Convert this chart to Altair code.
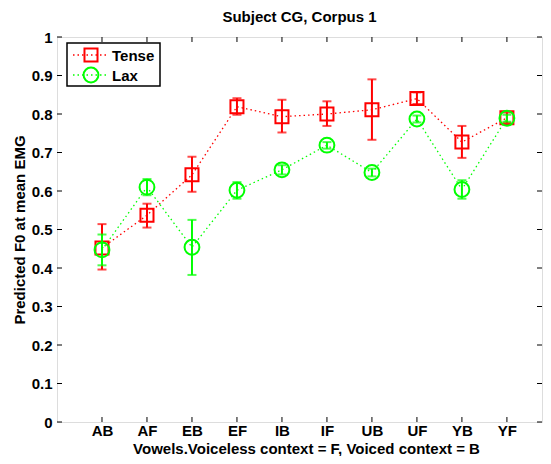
import altair as alt
import pandas as pd

categories = ["AB", "AF", "EB", "EF", "IB", "IF", "UB", "UF", "YB", "YF"]
tense_mean = [0.452, 0.537, 0.642, 0.819, 0.793, 0.800, 0.811, 0.840, 0.727, 0.790]
tense_lo = [0.396, 0.505, 0.598, 0.798, 0.752, 0.769, 0.733, 0.826, 0.686, 0.777]
tense_hi = [0.514, 0.567, 0.689, 0.841, 0.837, 0.833, 0.890, 0.856, 0.769, 0.804]
lax_mean = [0.447, 0.610, 0.454, 0.602, 0.655, 0.719, 0.648, 0.787, 0.604, 0.789]
lax_lo = [0.407, 0.589, 0.382, 0.580, 0.643, 0.710, 0.638, 0.778, 0.580, 0.780]
lax_hi = [0.487, 0.631, 0.525, 0.623, 0.667, 0.727, 0.658, 0.796, 0.628, 0.798]
series_names = ["Tense", "Lax"]
series_colors = ["#ff0000", "#00ff00"]
series_shapes = ["square", "circle"]
y_ticks = [round(i * 0.1, 1) for i in range(11)]

W, H = 485, 385
FONT = "Liberation Sans"
FS = 15

rows = []
for i, c in enumerate(categories):
    rows.append(dict(pos=i + 1, cat=c, series="Tense", mean=tense_mean[i], lo=tense_lo[i], hi=tense_hi[i]))
for i, c in enumerate(categories):
    rows.append(dict(pos=i + 1, cat=c, series="Lax", mean=lax_mean[i], lo=lax_lo[i], hi=lax_hi[i]))
df = pd.DataFrame(rows)

label_expr = "[" + ",".join("'%s'" % c for c in categories) + "][datum.value - 1]"

xscale = alt.Scale(domain=[0, 10.78], nice=False, zero=False)
yscale = alt.Scale(domain=[0, 1], nice=False)

xaxis = alt.Axis(values=list(range(1, 11)), labelExpr=label_expr,
                 labelPadding=1, title="Vowels.Voiceless context = F, Voiced context = B",
                 titleBaseline="alphabetic", titleY=31, titleX=249, titleAnchor="middle")
yaxis = alt.Axis(values=y_ticks, tickCount=11, labelExpr="format(datum.value, '~g')",
                 labelPadding=5, title="Predicted F0 at mean EMG", titlePadding=4)

base = alt.Chart(df)
XQ = lambda f: alt.X(f, scale=xscale)
YQ = lambda f: alt.Y(f, scale=yscale)

layers = []
layers.append(base.mark_point(opacity=0).encode(
    x=alt.X("pos:Q", scale=xscale, axis=xaxis),
    y=alt.Y("mean:Q", scale=yscale, axis=yaxis)))

# inward ticks
yt = pd.DataFrame({"v": y_ticks})
xt = pd.DataFrame({"p": list(range(1, 11))})
layers.append(alt.Chart(yt).mark_rule(color="black", strokeWidth=1).encode(
    y=YQ("v:Q"), x=alt.value(0), x2=alt.value(5)))
layers.append(alt.Chart(yt).mark_rule(color="black", strokeWidth=1).encode(
    y=YQ("v:Q"), x=alt.value(W - 5), x2=alt.value(W)))
layers.append(alt.Chart(xt).mark_rule(color="black", strokeWidth=1).encode(
    x=XQ("p:Q"), y=alt.value(H - 5), y2=alt.value(H)))
layers.append(alt.Chart(xt).mark_rule(color="black", strokeWidth=1).encode(
    x=XQ("p:Q"), y=alt.value(0), y2=alt.value(5)))

for name, col in [("Tense", series_colors[0]), ("Lax", series_colors[1])]:
    sub = base.transform_filter(alt.datum.series == name)
    layers.append(sub.mark_line(color=col, strokeWidth=1.3, strokeDash=[1.5, 3]).encode(
        x=XQ("pos:Q"), y=YQ("mean:Q")))
for name, col, shp, size in [("Tense", series_colors[0], "square", 170), ("Lax", series_colors[1], "circle", 220)]:
    sub = base.transform_filter(alt.datum.series == name)
    layers.append(sub.mark_rule(color=col, strokeWidth=2).encode(
        x=XQ("pos:Q"), y=YQ("lo:Q"), y2="hi:Q"))
    for f in ["lo", "hi"]:
        layers.append(sub.mark_tick(color=col, thickness=2, size=9, orient="horizontal").encode(
            x=XQ("pos:Q"), y=YQ(f + ":Q")))
    layers.append(sub.mark_point(shape=shp, size=size, color=col, filled=False, strokeWidth=2, opacity=1).encode(
        x=XQ("pos:Q"), y=YQ("mean:Q")))

# legend box
leg = pd.DataFrame({"name": series_names, "row": [0, 1]})
layers.append(alt.Chart(leg).transform_filter(alt.datum.row == 0).mark_rect(
    fill="white", stroke="black", strokeWidth=1.5).encode(
    x=alt.value(10), x2=alt.value(103), y=alt.value(6), y2=alt.value(49)))
for r in range(2):
    d = leg[leg.row == r]
    yy = 18 + 20 * r
    layers.append(alt.Chart(d).mark_rule(color=series_colors[r], strokeWidth=1.3, strokeDash=[1.5, 3]).encode(
        x=alt.value(16), x2=alt.value(52), y=alt.value(yy)))
    layers.append(alt.Chart(d).mark_point(shape=series_shapes[r], size=[170, 220][r], color=series_colors[r],
                                          filled=False, strokeWidth=2, opacity=1).encode(
        x=alt.value(34), y=alt.value(yy)))
    layers.append(alt.Chart(d).mark_text(align="left", baseline="middle", font=FONT, fontSize=FS,
                                         fontWeight="bold", color="black").encode(
        x=alt.value(55), y=alt.value(yy + 1), text="name:N"))

chart = alt.layer(*layers).properties(
    width=W, height=H,
    title=alt.TitleParams("Subject CG, Corpus 1", font=FONT, fontSize=FS, fontWeight="bold",
                          color="black", anchor="middle", offset=5),
    autosize=alt.AutoSizeParams(type="none"),
    padding={"left": 49, "top": 29, "right": 1, "bottom": 34},
).configure_view(stroke="black", strokeWidth=2).configure(background="white").configure_axis(
    tickSize=0, domain=False, grid=False, labelOverlap=False, labelBound=False, labelFlush=False,
    labelFont=FONT, labelFontSize=FS, labelFontWeight="bold", labelColor="black",
    titleFont=FONT, titleFontSize=FS, titleFontWeight="bold", titleColor="black")

chart.save("out.html", embed_options={"renderer": "svg", "actions": False})
